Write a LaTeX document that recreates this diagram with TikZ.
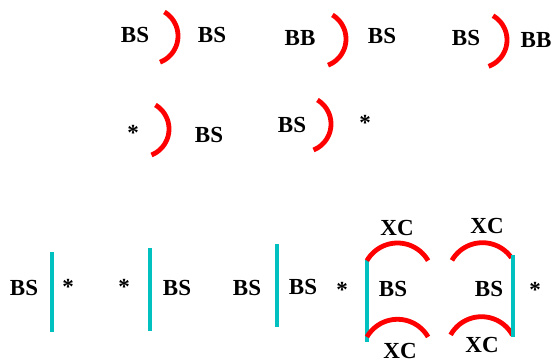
\documentclass[tikz,border=0pt]{standalone}
\usepackage{fontspec}
\setmainfont{Liberation Serif}[BoldFont={Liberation Serif Bold}]
\definecolor{arcred}{RGB}{255,0,0}
\definecolor{barcyan}{RGB}{0,192,192}
\tikzset{
  lbl/.style={inner sep=0pt, font=\fontsize{23}{27}\selectfont\bfseries},
  star/.style={inner sep=0pt, font=\fontsize{23}{27}\selectfont\bfseries},
  redarc/.style={draw=arcred, line width=4.8pt, samples=40},
  cyanbar/.style={draw=barcyan, line width=4.5pt},
}
\newcommand{\cirarc}[5]{% cx, cy, r, a1, a2 (pixel coords)
  \draw[redarc] plot[domain=#4:#5] ({#1+#3*cos(\x)},{#2+#3*sin(\x)});}
\begin{document}
\begin{tikzpicture}[x=1pt,y=-1pt]
\useasboundingbox (0,0) rectangle (553,362);
% Row 1
\node[lbl] (a1) at (135,35) {BS};
\cirarc{150}{36}{28}{-59}{69}
\node[lbl] (a2) at (212,35) {BS};
\node[lbl] (b1) at (300,38) {BB};
\cirarc{318}{39}{28}{-59}{69}
\node[lbl] (b2) at (382,36) {BS};
\node[lbl] (c1) at (466,38) {BS};
\cirarc{479}{40}{28}{-60}{70}
\node[lbl] (c2) at (536,40) {BB};
% Row 2
\node[star] (d1) at (133,133) {*};
\cirarc{141}{129}{28}{-59}{68}
\node[lbl] (d2) at (209,135) {BS};
\node[lbl] (e1) at (292,125) {BS};
\cirarc{303}{124}{28}{-59}{68}
\node[star] (e2) at (365,123) {*};
% Row 3
\node[lbl] (f1) at (24,288) {BS};
\draw[cyanbar] (52,252) -- (52,332);
\node[star] (f2) at (68,287) {*};
\node[star] (g1) at (124,287) {*};
\draw[cyanbar] (150,248) -- (150,331);
\node[lbl] (g2) at (177,288) {BS};
\node[lbl] (h1) at (247,288) {BS};
\draw[cyanbar] (277,244) -- (277,327);
\node[lbl] (h2) at (303,287) {BS};
% Group
\node[star] (i0) at (342,290) {*};
\draw[cyanbar] (367,260) -- (367,342);
\cirarc{397.5}{278.3}{35.3}{-150}{-30}
\cirarc{397.5}{354.6}{35.3}{-150}{-30}
\node[lbl] (i1) at (397,228) {XC};
\node[lbl] (i2) at (393,289) {BS};
\node[lbl] (i3) at (400,351) {XC};
\cirarc{482.5}{278}{35.3}{-150}{-35}
\cirarc{481.5}{352}{35.3}{-151}{-29}
\draw[cyanbar] (513,255) -- (513,337);
\node[lbl] (j1) at (487,226) {XC};
\node[lbl] (j2) at (489,289) {BS};
\node[lbl] (j3) at (482,345) {XC};
\node[star] (j4) at (535,290) {*};
\end{tikzpicture}
\end{document}
